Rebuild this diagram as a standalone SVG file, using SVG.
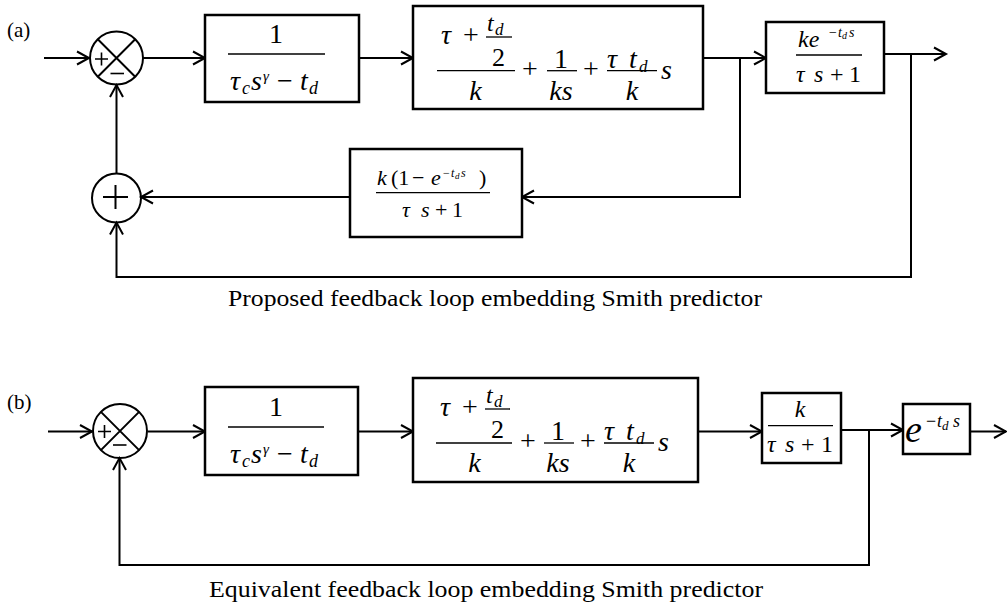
<svg xmlns="http://www.w3.org/2000/svg" width="1007" height="612" viewBox="0 0 1007 612">
  <style>
    text { font-family: "Liberation Serif", "Times New Roman", serif; fill: #000; }
    .it { font-style: italic; }
    .m { text-anchor: middle; }
    .box { fill: #fff; stroke: #000; stroke-width: 2.5; }
    .wire { fill: none; stroke: #000; stroke-width: 2; }
    .frac { stroke: #000; stroke-width: 1.3; }
    .sym { fill: none; stroke: #000; stroke-width: 2; }
  </style>
  <defs>
    <marker id="arr" viewBox="0 0 13 14" refX="12" refY="7" markerWidth="13" markerHeight="14" markerUnits="userSpaceOnUse" orient="auto" overflow="visible">
      <path d="M0,0.5 L12,7 L0,13.5" fill="none" stroke="#000" stroke-width="2"/>
    </marker>
  </defs>
  <rect width="1007" height="612" fill="#fff"/>

  <!-- ===================== (a) proposed loop ===================== -->
  <text x="7" y="37" font-size="21">(a)</text>

  <g id="connectors-a" class="wire">
    <path d="M44,58 H89" marker-end="url(#arr)"/>
    <path d="M143,58 H205" marker-end="url(#arr)"/>
    <path d="M359,58 H413" marker-end="url(#arr)"/>
    <path d="M703,58 H766" marker-end="url(#arr)"/>
    <path d="M740,58 V197 H522" marker-end="url(#arr)"/>
    <path d="M350,197 H141" marker-end="url(#arr)"/>
    <path d="M116.5,173.5 V85" marker-end="url(#arr)"/>
    <path d="M884,54 H946" marker-end="url(#arr)"/>
    <path d="M911,54 V277 H116.5 V222.5" marker-end="url(#arr)"/>
  </g>

  <g id="sum-a" class="sym">
    <circle cx="116.5" cy="58" r="26.5"/>
    <path d="M97.8,39.3 L135.2,76.7 M135.2,39.3 L97.8,76.7"/>
    <path stroke-width="1.6" d="M95,59 H108 M101.5,52.5 V65.5"/>
    <path stroke-width="1.6" d="M110.5,73.5 H124"/>
  </g>

  <g id="sum-fb-a" class="sym">
    <circle cx="116.5" cy="198" r="24.5"/>
    <path d="M103,197 H128 M115.5,185 V209"/>
  </g>

  <g id="controller-a">
    <rect class="box" x="205" y="15" width="154" height="87"/>
    <text class="m" x="276" y="43" font-size="28">1</text>
    <line class="frac" x1="228" y1="54" x2="325" y2="54"/>
    <text class="it" x="230" y="90" font-size="28">τ</text>
    <text class="it" x="242" y="94" font-size="18">c</text>
    <text class="it" x="251" y="90" font-size="28">s</text>
    <text class="it" x="263" y="81" font-size="15">γ</text>
    <text x="277" y="90" font-size="28">−</text>
    <text class="it" x="300" y="90" font-size="28">t</text>
    <text class="it" x="309" y="94" font-size="18">d</text>
  </g>

  <g id="pid-a">
    <rect class="box" x="413" y="6" width="290" height="103"/>
    <text class="it m" x="446" y="44" font-size="28">τ</text>
    <text class="m" x="471" y="44" font-size="28">+</text>
    <text class="it" x="487" y="31" font-size="24">t</text>
    <text class="it" x="495" y="35" font-size="17">d</text>
    <line class="frac" x1="486" y1="37" x2="512" y2="37"/>
    <text class="m" x="498.5" y="66" font-size="26">2</text>
    <line class="frac" x1="437" y1="70.7" x2="515" y2="70.7"/>
    <text class="it m" x="475.5" y="100" font-size="28">k</text>
    <text class="m" x="530" y="78" font-size="28">+</text>
    <text class="m" x="561" y="68" font-size="28">1</text>
    <line class="frac" x1="547" y1="70.7" x2="577" y2="70.7"/>
    <text class="it m" x="561" y="100" font-size="28">ks</text>
    <text class="m" x="591" y="78" font-size="28">+</text>
    <text class="it" x="607" y="68" font-size="28">τ</text>
    <text class="it" x="629" y="68" font-size="28">t</text>
    <text class="it" x="639" y="72" font-size="17">d</text>
    <line class="frac" x1="607" y1="70.7" x2="657" y2="70.7"/>
    <text class="it m" x="632" y="100" font-size="28">k</text>
    <text class="it" x="661" y="79" font-size="28">s</text>
  </g>

  <g id="plant-a">
    <rect class="box" x="766" y="22" width="118" height="71"/>
    <text class="it" x="798" y="47" font-size="24">ke</text>
    <text x="829" y="37" font-size="14">−</text>
    <text class="it" x="838" y="37" font-size="14">t</text>
    <text class="it" x="842" y="39" font-size="10">d</text>
    <text class="it" x="849" y="37" font-size="14">s</text>
    <line class="frac" x1="796" y1="55" x2="862" y2="55"/>
    <text class="it" x="796" y="82" font-size="24">τ</text>
    <text class="it" x="814" y="82" font-size="24">s</text>
    <text x="830" y="82" font-size="24">+</text>
    <text x="849" y="82" font-size="24">1</text>
  </g>

  <g id="predictor-a">
    <rect class="box" x="350" y="149" width="172" height="88"/>
    <text class="it" x="377" y="185" font-size="22">k</text>
    <text x="391" y="185" font-size="22">(1</text>
    <text x="412" y="185" font-size="22">−</text>
    <text class="it" x="431" y="185" font-size="22">e</text>
    <text x="443" y="177" font-size="12">−</text>
    <text class="it" x="451" y="177" font-size="12">t</text>
    <text class="it" x="455" y="179" font-size="9">d</text>
    <text class="it" x="461" y="177" font-size="12">s</text>
    <text x="479" y="185" font-size="22">)</text>
    <line class="frac" x1="376" y1="192.7" x2="490" y2="192.7"/>
    <text class="it" x="402" y="217" font-size="22">τ</text>
    <text class="it" x="421" y="217" font-size="22">s</text>
    <text x="435" y="217" font-size="22">+</text>
    <text x="452" y="217" font-size="22">1</text>
  </g>

  <text x="228" y="306" font-size="24" textLength="534" lengthAdjust="spacingAndGlyphs">Proposed feedback loop embedding Smith predictor</text>

  <!-- ===================== (b) equivalent loop ===================== -->
  <text x="7" y="409" font-size="21">(b)</text>

  <g id="connectors-b" class="wire">
    <path d="M48,431.5 H92" marker-end="url(#arr)"/>
    <path d="M148,431.5 H205" marker-end="url(#arr)"/>
    <path d="M358,431.5 H413" marker-end="url(#arr)"/>
    <path d="M698,431.5 H762" marker-end="url(#arr)"/>
    <path d="M841,430 H903" marker-end="url(#arr)"/>
    <path d="M970,431.5 H1006" marker-end="url(#arr)"/>
    <path d="M869,430 V565 H119.5 V458" marker-end="url(#arr)"/>
  </g>

  <g id="sum-b" class="sym">
    <circle cx="120" cy="431" r="27"/>
    <path d="M100.9,411.9 L139.1,450.1 M139.1,411.9 L100.9,450.1"/>
    <path stroke-width="1.6" d="M98,431.5 H111 M104.5,425 V438"/>
    <path stroke-width="1.6" d="M113,445 H126.5"/>
  </g>

  <g id="controller-b">
    <rect class="box" x="205" y="387" width="153" height="88"/>
    <text class="m" x="276" y="416" font-size="28">1</text>
    <line class="frac" x1="228" y1="427" x2="324" y2="427"/>
    <text class="it" x="230" y="463" font-size="28">τ</text>
    <text class="it" x="242" y="467" font-size="18">c</text>
    <text class="it" x="251" y="463" font-size="28">s</text>
    <text class="it" x="263" y="454" font-size="15">γ</text>
    <text x="277" y="463" font-size="28">−</text>
    <text class="it" x="300" y="463" font-size="28">t</text>
    <text class="it" x="309" y="467" font-size="18">d</text>
  </g>

  <g id="pid-b">
    <rect class="box" x="413" y="378" width="285" height="104"/>
    <text class="it m" x="445" y="416" font-size="28">τ</text>
    <text class="m" x="470" y="416" font-size="28">+</text>
    <text class="it" x="486" y="403" font-size="24">t</text>
    <text class="it" x="494" y="407" font-size="17">d</text>
    <line class="frac" x1="485" y1="409" x2="510" y2="409"/>
    <text class="m" x="497.5" y="438" font-size="26">2</text>
    <line class="frac" x1="436" y1="443" x2="512" y2="443"/>
    <text class="it m" x="474.5" y="472" font-size="28">k</text>
    <text class="m" x="528" y="450" font-size="28">+</text>
    <text class="m" x="558" y="440" font-size="28">1</text>
    <line class="frac" x1="544" y1="443" x2="574" y2="443"/>
    <text class="it m" x="558" y="472" font-size="28">ks</text>
    <text class="m" x="588" y="450" font-size="28">+</text>
    <text class="it" x="604" y="440" font-size="28">τ</text>
    <text class="it" x="626" y="440" font-size="28">t</text>
    <text class="it" x="636" y="444" font-size="17">d</text>
    <line class="frac" x1="604" y1="443" x2="654" y2="443"/>
    <text class="it m" x="629" y="472" font-size="28">k</text>
    <text class="it" x="658" y="451" font-size="28">s</text>
  </g>

  <g id="plant-b">
    <rect class="box" x="762" y="393" width="79" height="70"/>
    <text class="it m" x="800" y="417" font-size="24">k</text>
    <line class="frac" x1="768" y1="425.7" x2="833" y2="425.7"/>
    <text class="it" x="767" y="452" font-size="24">τ</text>
    <text class="it" x="785" y="452" font-size="24">s</text>
    <text x="801" y="452" font-size="24">+</text>
    <text x="821" y="452" font-size="24">1</text>
  </g>

  <g id="delay-b">
    <rect class="box" x="903" y="404" width="67" height="50"/>
    <text class="it" x="905" y="442" font-size="38">e</text>
    <text x="926" y="427" font-size="18">−</text>
    <text class="it" x="937" y="427" font-size="18">t</text>
    <text class="it" x="942" y="430" font-size="13">d</text>
    <text class="it" x="953" y="427" font-size="18">s</text>
  </g>

  <text x="209" y="597" font-size="24" textLength="554" lengthAdjust="spacingAndGlyphs">Equivalent feedback loop embedding Smith predictor</text>
</svg>
